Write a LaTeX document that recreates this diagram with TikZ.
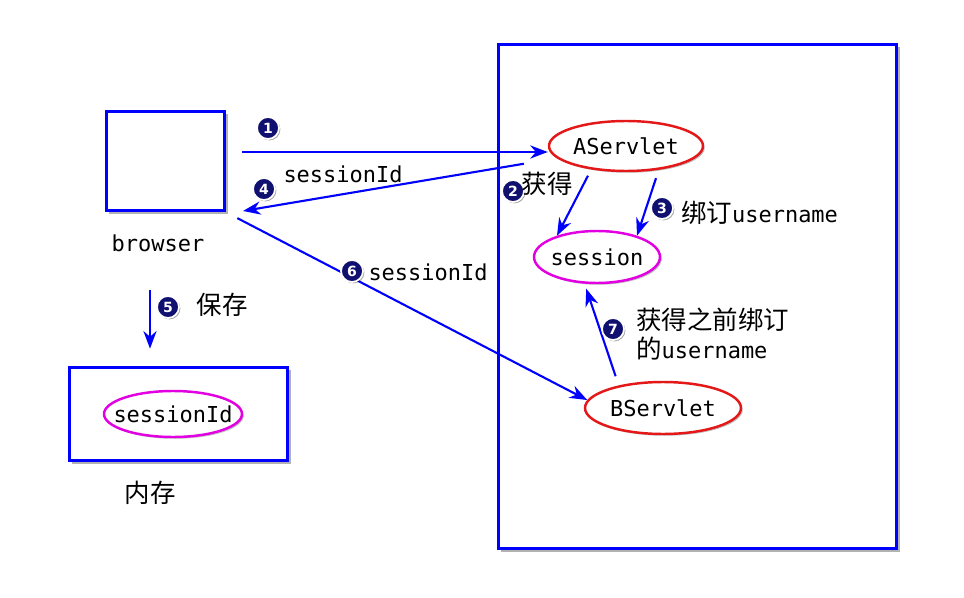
\documentclass[tikz,border=0pt]{standalone}
\usepackage{fontspec}
\setmonofont{DejaVu Sans Mono}
\newfontfamily\cjk{Noto Sans CJK SC}
\newfontfamily\numfont{DejaVu Sans}
\usetikzlibrary{arrows.meta,positioning,shapes.geometric,shadows}
\definecolor{navy}{RGB}{16,16,112}
\definecolor{servred}{RGB}{228,24,24}
\definecolor{storepink}{RGB}{226,0,226}
\tikzset{%
	frame/.style   = {draw=blue, line width=1.7pt, fill=white, inner sep=0pt, drop shadow={shadow xshift=1.5pt, shadow yshift=-1.5pt, opacity=0.3, fill=black}},
	servlet/.style = {ellipse, draw=servred, line width=1.4pt, fill=white, minimum width=3.08cm, minimum height=1cm, inner sep=0pt, font=\ttfamily\fontsize{12.5}{16}\selectfont, drop shadow={shadow xshift=1pt, shadow yshift=-1pt, opacity=0.25, fill=black}},
	store/.style   = {ellipse, draw=storepink, line width=1.4pt, fill=white, inner sep=0pt, font=\ttfamily\fontsize{12.5}{16}\selectfont, drop shadow={shadow xshift=1pt, shadow yshift=-1pt, opacity=0.25, fill=black}},
	link/.style    = {draw=blue, line width=1.2pt, -{Stealth[length=10pt,width=7.5pt]}},
	badge/.style   = {circle, fill=navy, draw=white, line width=1pt, text=white, minimum size=0.44cm, inner sep=0pt, font=\numfont\bfseries\fontsize{8}{8}\selectfont, drop shadow={shadow xshift=0.8pt, shadow yshift=-0.8pt, opacity=0.35, fill=black}},
	mono/.style    = {font=\ttfamily\fontsize{12.5}{16}\selectfont},
	han/.style     = {font=\cjk\fontsize{14.5}{16}\selectfont},
}
\newcommand{\zh}[1]{{\cjk\fontsize{14.5}{16}\selectfont #1}}

\begin{document}
\begin{tikzpicture}[x=0.02cm,y=-0.02cm]
	\useasboundingbox (0,0) rectangle (964,598);
	\node[frame, minimum width=7.98cm, minimum height=10.1cm] (server) at (697.5,296.5) {};
	\node[frame, minimum width=2.38cm, minimum height=2cm] (browser) at (165.5,161) {};
	\node[frame, minimum width=4.38cm, minimum height=1.88cm] (memory) at (178.5,414) {};
	\node[store, inner xsep=-6.5pt, minimum width=2.76cm, minimum height=0.92cm] (cookie) at (173,414) {sessionId};
	\node[servlet] (aservlet) at (626,146) {AServlet};
	\node[store, inner xsep=-1.5pt, minimum width=2.52cm, minimum height=1.04cm] (session) at (597,257) {session};
	\node[servlet, minimum width=3.12cm, minimum height=1.04cm] (bservlet) at (663,408) {BServlet};
	\node[mono] (browserlbl) at (158,243) {browser};
	\node[han] (memorylbl) at (150,493) {内存};

	\coordinate (out1) at (242,152);
	\coordinate (in4) at (243,211);
	\coordinate (out5) at (150,290);
	\draw[link] (out1) -- (aservlet.west |- out1);
	\draw[link, shorten <=19pt] (aservlet.190) -- (in4);
	\draw[link, shorten <=4pt] (aservlet.214) -- (session.152);
	\draw[link, shorten <=5pt] (aservlet.-36) -- (session.28);
	\draw[link, shorten >=9.6pt] (out5) -- (out5 |- memory.north);
	\draw[link, shorten <=7pt] (browser.south east) -- (bservlet.174);
	\draw[link, shorten <=5.5pt, shorten >=3pt] (bservlet.153) -- (session.245);

	\node[badge] (n1) at (268,128) {1};
	\node[badge] (n2) at (513,191) {2};
	\node[badge] (n3) at (662,208) {3};
	\node[badge] (n4) at (264,189) {4};
	\node[badge] (n5) at (168,307) {5};
	\node[badge] (n6) at (352,271) {6};
	\node[badge] (n7) at (613,329) {7};
	\node[mono] (id4) at (343,174) {sessionId};
	\node[han] (get2) at (547,184) {获得};
	\node[mono, anchor=west] (bind3) at (675,213) {\zh{绑订}username};
	\node[han] (save5) at (222,305) {保存};
	\node[mono] (id6) at (428,272) {sessionId};
	\node[mono, anchor=west, align=left] (get7) at (630,334) {\zh{获得之前绑订}\\\zh{的}username};
\end{tikzpicture}
\end{document}
